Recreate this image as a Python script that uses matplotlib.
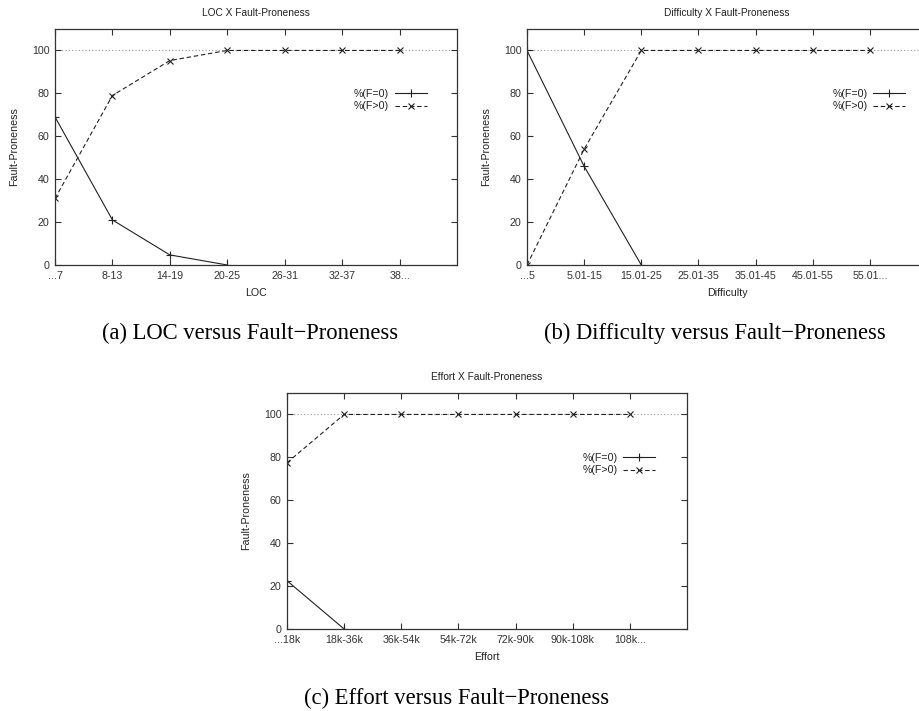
import matplotlib
matplotlib.use("Agg")
import matplotlib.pyplot as plt

plt.rcParams["font.family"] = ["Liberation Sans", "DejaVu Sans"]

# category labels per panel
LOC_LABELS = ["...7", "8-13", "14-19", "20-25", "26-31", "32-37", "38..."]
DIFF_LABELS = ["...5", "5.01-15", "15.01-25", "25.01-35", "35.01-45", "45.01-55", "55.01..."]
EFF_LABELS = ["...18k", "18k-36k", "36k-54k", "54k-72k", "72k-90k", "90k-108k", "108k..."]

# %(F=0) and %(F>0) per category
LOC_F0 = [69, 21, 4.7, 0]
LOC_FP = [31, 79, 95.3, 100, 100, 100, 100]
DIFF_F0 = [100, 46, 0]
DIFF_FP = [0, 54, 100, 100, 100, 100, 100]
EFF_F0 = [22.5, 0]
EFF_FP = [77.5, 100, 100, 100, 100, 100, 100]

REF = 100

W, H = 920, 711
fig = plt.figure(figsize=(W / 100, H / 100), dpi=100)


def px_axes(l, t, r, b):
    return fig.add_axes([l / W, 1 - b / H, (r - l) / W, (b - t) / H])


def panel(ax, labels, f0, fp, title, xlabel, leg_x):
    ax.axhline(REF, color="#999999", linestyle=(0, (1, 2)), linewidth=0.8, zorder=1)
    ax.plot(range(len(f0)), f0, color="#222222", linewidth=0.8, marker="+",
            markersize=5.5, markeredgewidth=0.8, label="%(F=0)")
    ax.plot(range(len(fp)), fp, color="#222222", linewidth=0.8, linestyle=(0, (4, 2.5)),
            marker="x", markersize=5, markeredgewidth=0.8, label="%(F>0)")
    ax.set_xlim(0, 7)
    ax.set_ylim(0, 110)
    ax.set_xticks(range(len(labels)))
    ax.set_xticklabels(labels)
    ax.set_yticks(range(0, 101, 20))
    ax.tick_params(direction="in", length=4, width=0.8, top=True, right=True,
                   labelsize=7.7, pad=4, colors="#333333")
    for s in ax.spines.values():
        s.set_linewidth(0.9)
        s.set_color("#333333")
    ax.set_title(title, fontsize=7.3, pad=9, color="#222222")
    ax.set_xlabel(xlabel, fontsize=7.7, labelpad=5, color="#222222")
    ax.set_ylabel("Fault-Proneness", fontsize=7.7, labelpad=9, color="#222222")
    leg = ax.legend(loc="upper right", bbox_to_anchor=(leg_x, 0.765), frameon=False,
                    markerfirst=False, fontsize=7.7, handlelength=3.0, handletextpad=0.5,
                    labelspacing=0.25, borderaxespad=0)
    for t in leg.get_texts():
        t.set_color("#222222")
    return leg


ax_a = px_axes(55, 29, 457, 265)
panel(ax_a, LOC_LABELS, LOC_F0, LOC_FP, "LOC X Fault-Proneness", "LOC", 0.935)

ax_b = px_axes(527, 29, 927, 265)
panel(ax_b, DIFF_LABELS, DIFF_F0, DIFF_FP, "Difficulty X Fault-Proneness", "Difficulty", 0.955)

ax_c = px_axes(287, 393, 687, 629)
panel(ax_c, EFF_LABELS, EFF_F0, EFF_FP, "Effort X Fault-Proneness", "Effort", 0.93)

cap = dict(fontsize=16.3, family=["Liberation Serif", "DejaVu Serif"], ha="center", va="center")
fig.text(250 / W, 1 - 333 / H, "(a) LOC versus Fault\u2212Proneness", **cap)
fig.text(715 / W, 1 - 333 / H, "(b) Difficulty versus Fault\u2212Proneness", **cap)
fig.text(457 / W, 1 - 698 / H, "(c) Effort versus Fault\u2212Proneness", **cap)

fig.savefig("out.png", dpi=100)
